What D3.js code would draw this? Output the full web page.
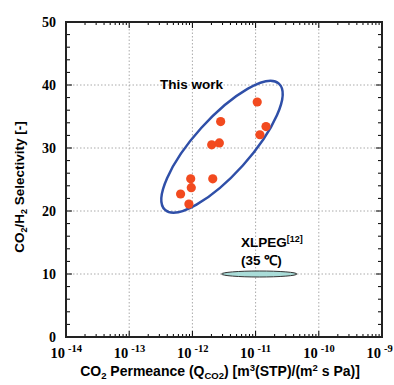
<!DOCTYPE html>
<html lang="en">
<head>
    <meta charset="UTF-8">
    <script src="https://cdn.jsdelivr.net/npm/d3@7/dist/d3.min.js"></script>
    <title>CO2/H2 selectivity</title>
    <style>
        html, body { margin: 0; background: #fff; overflow: hidden; }
        #mainsvg { display: block; }
        #mainsvg text { white-space: pre; }
    </style>
</head>
<body>
    <svg id="mainsvg" width="394" height="385"></svg>
    <script>
        // this work: CO2 permeance [m3(STP)/(m2 s Pa)] and CO2/H2 selectivity
        const permeance = [1.06e-11, 2.8e-12, 1.46e-11, 1.17e-11, 2.02e-12, 2.67e-12, 9.4e-13, 2.1e-12, 9.6e-13, 6.5e-13, 8.8e-13]
        const selectivity = [37.3, 34.2, 33.4, 32.1, 30.5, 30.8, 25.1, 25.1, 23.7, 22.7, 21.1]
        // XLPEG reference region (35 C)
        const xlpegRange = [2.9e-12, 4.5e-11]
        const xlpegSelectivity = 10
        // region drawn round this work
        const workCenter = [2.94e-12, 30.2]
        const xExponents = [-14, -13, -12, -11, -10, -9]
        const yTicks = [0, 10, 20, 30, 40, 50]

        const svg = d3.select('#mainsvg')
        const margin = { top: 22, right: 12, bottom: 48, left: 66 }
        const innerWidth = 394 - margin.left - margin.right
        const innerHeight = 385 - margin.top - margin.bottom

        const xScale = d3.scaleLog().domain([1e-14, 1e-9]).range([0, innerWidth])
        const yScale = d3.scaleLinear().domain([0, 50]).range([innerHeight, 0])

        const sans = '"Liberation Sans", Arial, sans-serif'
        const serif = '"Liberation Serif", "Times New Roman", serif'

        // lay out runs [text, size, yOffset] as separate text nodes, side by side
        function richText(parent, x, y, runs, family, anchor) {
            const grp = parent.append('g')
            let cx = 0
            runs.forEach(([t, size, dy]) => {
                const node = grp.append('text').attr('x', cx).attr('y', dy)
                    .attr('font-family', family).attr('font-weight', 'bold')
                    .attr('font-size', size).text(t)
                cx += node.node().getComputedTextLength()
            })
            const shift = anchor === 'middle' ? cx / 2 : 0
            grp.attr('transform', `translate(${x - shift},${y})`)
            return grp
        }

        const g = svg.append('g').attr('transform', `translate(${margin.left},${margin.top})`)

        // grid
        const majorX = xExponents.map(e => Math.pow(10, e))
        g.selectAll('.vgrid').data(majorX.slice(1, -1)).join('line')
            .attr('x1', d => xScale(d)).attr('x2', d => xScale(d))
            .attr('y1', 0).attr('y2', innerHeight)
            .attr('stroke', '#aaa').attr('stroke-dasharray', '1.5,2')
        g.selectAll('.hgrid').data(yTicks.slice(1, -1)).join('line')
            .attr('y1', d => yScale(d)).attr('y2', d => yScale(d))
            .attr('x1', 0).attr('x2', innerWidth)
            .attr('stroke', '#aaa').attr('stroke-dasharray', '1.5,2')

        // minor + major ticks, inward on all sides
        const minorX = []
        xExponents.slice(0, -1).forEach(e => {
            for (let k = 1; k < 10; k++) minorX.push(k * Math.pow(10, e))
        })
        const tickLenX = v => Math.abs(Math.log10(v) - Math.round(Math.log10(v))) < 1e-6 ? 6 : 3
        const ticks = g.append('g').attr('stroke', '#000').attr('stroke-width', 1)
        minorX.forEach(v => {
            const x = xScale(v), l = tickLenX(v)
            ticks.append('line').attr('x1', x).attr('x2', x).attr('y1', innerHeight).attr('y2', innerHeight - l)
            ticks.append('line').attr('x1', x).attr('x2', x).attr('y1', 0).attr('y2', l)
        })
        d3.range(0, 51, 2).forEach(v => {
            const y = yScale(v), l = v % 10 === 0 ? 6 : 4
            ticks.append('line').attr('x1', 0).attr('x2', l).attr('y1', y).attr('y2', y)
            ticks.append('line').attr('x1', innerWidth).attr('x2', innerWidth - l).attr('y1', y).attr('y2', y)
        })

        // frame
        g.append('rect').attr('width', innerWidth).attr('height', innerHeight)
            .attr('fill', 'none').attr('stroke', '#222').attr('stroke-width', 2)

        // tick labels
        g.selectAll('.ylab').data(yTicks).join('text')
            .attr('x', -10).attr('y', d => yScale(d) + 5)
            .attr('text-anchor', 'end').attr('font-family', serif)
            .attr('font-weight', 'bold').attr('font-size', 14).text(d => d)
        xExponents.forEach(e => {
            const x = xScale(Math.pow(10, e))
            g.append('text').attr('x', x - 1).attr('y', innerHeight + 21)
                .attr('text-anchor', 'end').attr('font-family', serif)
                .attr('font-weight', 'bold').attr('font-size', 14.5).text('10')
            g.append('text').attr('x', x + 2).attr('y', innerHeight + 15)
                .attr('font-family', serif)
                .attr('font-weight', 'bold').attr('font-size', 10.5).text(e)
        })

        // this work
        g.append('ellipse')
            .attr('transform', `translate(${xScale(workCenter[0])},${yScale(workCenter[1])}) rotate(-48)`)
            .attr('rx', 85).attr('ry', 28)
            .attr('fill', 'none').attr('stroke', '#2f4fa8').attr('stroke-width', 2.5)
        g.selectAll('.pt').data(permeance).join('circle')
            .attr('cx', d => xScale(d)).attr('cy', (d, i) => yScale(selectivity[i]))
            .attr('r', 4.6).attr('fill', '#f24a1f')
        g.append('text').attr('x', 94).attr('y', 67)
            .attr('font-family', sans).attr('font-weight', 'bold').attr('font-size', 13.5)
            .text('This work')

        // XLPEG
        const x0 = xScale(xlpegRange[0]), x1 = xScale(xlpegRange[1])
        g.append('ellipse')
            .attr('cx', (x0 + x1) / 2).attr('cy', yScale(xlpegSelectivity))
            .attr('rx', (x1 - x0) / 2).attr('ry', 3)
            .attr('fill', '#a9dcd8').attr('stroke', '#333').attr('stroke-width', 1)
        richText(g, 175, 225, [['XLPEG', 13.5, 0], ['[12]', 9, -5]], sans, 'start')
        g.append('text').attr('x', 175).attr('y', 243)
            .attr('font-family', sans).attr('font-weight', 'bold').attr('font-size', 13.5)
            .text('(35 \u2103)')

        // axis titles
        richText(svg, 220, 376, [
            ['CO', 14, 0], ['2', 9.5, 3], [' Permeance (Q', 14, 0], ['CO2', 9.5, 3],
            [') [m', 14, 0], ['3', 9.5, -5], ['(STP)/(m', 14, 0], ['2', 9.5, -5], [' s Pa)]', 14, 0]
        ], sans, 'middle')

        const yTitle = svg.append('g').attr('transform', 'translate(24,187) rotate(-90)')
        richText(yTitle, 0, 0, [
            ['CO', 13.5, 0], ['2', 9, 3], ['/H', 13.5, 0], ['2', 9, 3], [' Selectivity [-]', 13.5, 0]
        ], sans, 'middle')
    </script>
</body>
</html>
